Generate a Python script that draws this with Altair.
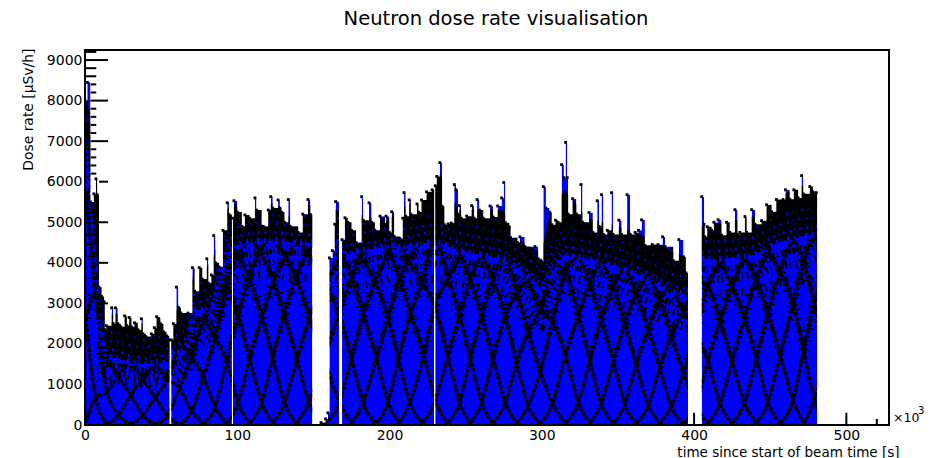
import altair as alt
import pandas as pd

# Envelope of the histogram (time in 10^3 s, dose rate in uSv/h)
env_t = [0,1.5,3.6,5.8,7.2,8,9.2,10.9,12.5,13,14,17.5,18.5,20,21.5,23.5,26,27.5,29,30.5,32.5,34.7,37,38,40,43.5,45.5,47,49.5,51.5,53.5,55.3,55.6,
56.6,58,60,61.3,63,67.6,70.5,72,75,77,80,81,83,84.5,85.7,88,90.6,93.4,94.5,96.5,
97.2,97.8,100,103,105,108,111.6,112.6,116,117,120.3,122,123.3,126.8,128,129,131,133.5,134.7,140,143,146.4,148,149.3,
155,158,159.5,160.5,162.5,164,164.6,166.8,
168.8,170.7,172.5,175,178,181.7,182.7,186.5,188.2,190.4,193.7,197,197.7,199.8,201.4,203,206.8,208.7,209.5,210.6,212.9,214,218,219,221,224.3,228,229.3,
230,231,233,234.5,236,238.5,240.5,242.5,243.7,245,245.8,247,250.6,253.9,255.5,257.5,259,261.5,266,268,271,273.6,275,276,278.6,279.5,284,285.6,288.8,295.5,297.6,300,301,302.7,305,306.5,309,310.6,313,314.5,315.6,316.7,317.3,320.2,322.7,325.7,326.7,331,333.5,336.4,337.6,339.2,340.4,343,345.8,346.8,350.6,352.4,356,358,361.3,363.5,365.5,367.7,372.5,376.3,379.3,381,385.3,386.4,390,393,394.6,396,
405,406.5,407,408.6,411.5,413,415.8,418,421.3,423.4,426.8,428.5,430,433.4,434.5,437.8,440,444.3,447.6,450.9,454,458.4,460,462.8,465.5,468.3,470.6,471.7,476,478,480.2,480.8,528]
env_dose = [8000,8450,5500,5700,6070,5680,3400,3170,3040,2350,2450,2890,2500,2890,2500,2420,2690,2450,2650,2420,2520,2350,2620,2250,2180,2250,2400,2670,2500,2300,2200,2100,0,
2100,2500,3400,2900,2760,2760,3880,3300,3880,3600,4100,3500,3700,4670,4000,3900,4800,5480,5190,0,
5100,5530,5250,4900,5180,5100,5600,5300,4900,4900,5300,5630,5350,5550,5350,5250,5000,5560,4900,4750,5200,5560,5190,0,
60,150,300,4120,4300,4950,5510,0,
4570,5110,5000,4800,4500,5630,5050,5480,5000,4800,5150,4950,5150,4750,5260,4650,4600,5100,5730,5150,5550,5200,5450,5250,5550,5750,5800,0,
5900,6130,6470,5390,4940,4960,4980,5930,5800,5200,5410,5100,5150,5410,5100,5560,5300,5100,5400,5130,5400,5600,5980,4990,4890,4620,4500,4640,4400,4400,4100,4030,5880,5350,5250,4940,5050,5000,6420,6100,6970,6100,5200,5580,5200,5930,5000,5240,4750,5530,4900,5680,4700,4800,5730,4700,5050,4700,5680,4700,4750,4800,5060,4430,4450,4450,4640,4400,4360,4050,4570,4150,3750,0,
5630,4950,4640,4890,4800,5000,5060,4680,5000,4750,5310,4700,4750,5140,4750,5310,4950,5040,5430,5260,5560,5560,5800,5570,5800,5600,6150,5700,5880,5750,5730,0,0]

# Dense black band of points and its fringes
band_t = [9.5,13,20,30,40,47,55,57,62,68,72,80,85,90,96,105,115,125,135,146,149,161,166,169,180,190,200,210,225,233,245,260,275,285,296,300,305,315,330,350,365,385,396,405,420,440,455,470,481]
band_lo = [2300,1700,1650,1550,1500,1550,1500,1800,1800,2000,2800,2900,3000,3900,4400,4500,4550,4550,4500,4500,4500,4500,4500,4200,4300,4350,4450,4400,4500,4500,4300,4200,4100,3850,3500,3300,3700,4200,4100,3900,3700,3300,3200,4100,4100,4200,4500,4650,4700]
band_hi = [3500,2700,2750,2650,2450,2700,2450,2500,3050,3100,3900,3900,4200,5100,5500,5300,5350,5500,5100,5450,5400,5300,5300,5100,5200,5100,5100,5400,5700,6200,5300,5300,5300,4600,4300,4300,5200,5800,5100,4900,4700,4300,4100,4900,5000,5150,5600,5900,5900]
band_d = [2500,1850,1850,1700,1650,1750,1650,1900,2000,2200,3000,3100,3250,4100,4600,4700,4750,4750,4700,4700,4700,4700,4700,4400,4500,4500,4600,4600,4750,4750,4500,4400,4300,4000,3650,3450,3900,4400,4300,4100,3850,3450,3350,4250,4300,4400,4700,4850,4900]
band_e = [2730,2100,2060,1960,1910,1980,1880,2200,2230,2430,3230,3330,3430,4330,4830,4930,4980,4980,4900,4930,4930,4930,4930,4630,4730,4780,4860,4830,4930,4930,4730,4630,4530,4280,3930,3730,4130,4630,4530,4330,4130,3730,3630,4530,4530,4630,4930,5080,5130]
band_f = [2950,2300,2280,2180,2100,2200,2100,2400,2450,2650,3450,3550,3650,4550,5050,5100,5150,5180,5100,5150,5150,5120,5100,4850,4950,5000,5080,5050,5150,5150,4950,4850,4750,4500,4150,3950,4350,4850,4750,4550,4350,3950,3850,4750,4750,4850,5150,5300,5350]
band_a = [2050,1500,1480,1380,1320,1350,1300,1500,1550,1750,2500,2650,2750,3500,4150,4200,4250,4300,4250,4250,4250,4250,4250,3950,4050,4100,4200,4100,4250,4250,4050,3950,3850,3600,3200,3000,3450,3950,3800,3650,3400,3000,2950,3850,3850,3950,4200,4350,4400]
band_b = [1800,1300,1300,1200,1150,1200,1150,1300,1350,1550,2200,2400,2500,3200,3900,3950,4000,4050,3950,4000,4000,4000,3950,3650,3800,3850,3950,3800,4000,3950,3800,3700,3600,3300,2950,2750,3200,3650,3550,3350,3150,2800,2700,3600,3600,3700,3900,4000,4100]
band_c = [1500,1100,1120,1050,1000,1050,1000,1100,1150,1300,1900,2100,2200,2800,3550,3650,3700,3700,3650,3650,3650,3650,3600,3300,3450,3500,3600,3450,3600,3600,3500,3400,3300,2950,2600,2450,2850,3300,3200,3000,2800,2500,2400,3250,3250,3300,3500,3550,3650]

# Times of the lattice formed by the point tracks (bottom cusps and crossings)
grid_t = [0.5,7,14.5,22,30,38,46,54,62,70,77.7,85.4,93,100.5,108,116,123.5,131,139,147,157,167,175,182.6,191,199,206,213.4,222,230,238,246,253,260.5,268,276,283.5,291,299,307,315.5,324,331.5,339,347,354.5,362,370,377.5,385,393,401,409,417,425,433,441,448.5,456.5,465,472,479,487]

# Point tracks: first grid index and dose rates along the track
tracks = [
 (0,[2640,670,20]),
 (0,[5760,3240,825,250,20]),
 (0,[7440,5040,1800,1215,740,235,20]),
 (0,[8000,5880,2325,1890,1620,1130,690,235,20]),
 (0,[7440,5880,2500,2205,2090,1760,1510,1130,910,350,30]),
 (0,[5760,5040,2325,2205,2250,2060,1950,1760,1980,1670,1190,450,40]),
 (0,[2640,3240,1800,1890,2090,2060,2100,2060,2560,2600,2590,2160,1570,560,40]),
 (0,[60,670,825,1215,1620,1760,1950,2060,2750,3040,3350,3360,3420,2700,1650,560,40]),
 (2,[20,250,740,1130,1510,1760,2560,3040,3600,3920,4420,4200,3600,2700,1650,560,40]),
 (4,[20,235,690,1130,1980,2600,3350,3920,4750,4900,4650,4200,3600,2700,1650,560,40]),
 (6,[20,235,910,1670,2590,3360,4420,4900,5000,4900,4650,4200,3600,2700,1650,560,40]),
 (8,[20,350,1190,2160,3420,4200,4650,4900,5000,4900,4650,4200,3600,2700,1650,560,40]),
 (10,[30,450,1570,2700,3700,4350,4800,5050,5150,5000,4800,4300,3700,2750,1700,580,40]),
 (12,[40,540,1620,2650,3500,4100,4500,4750,4850,4750,4500,4050,3500,2650,1600,550,40]),
 (14,[40,560,1700,2750,3700,4300,4750,5000,5100,5000,4750,4300,3700,2800,1800,620,40]),
 (16,[40,550,1600,2600,3450,4050,4450,4700,4800,4700,4500,4000,3500,2900,1750,560,40]),
 (18,[40,570,1680,2750,3650,4250,4700,4950,5050,4950,4700,4600,3700,2700,1650,560,40]),
 (20,[40,540,1650,2700,3600,4200,4650,4900,5000,5390,4700,4250,3600,2700,1650,560,40]),
 (22,[40,560,1600,2650,3550,4150,4600,5400,5050,4900,4650,4200,3600,2700,1520,480,35]),
 (24,[40,560,1650,2700,3600,4620,4650,4900,5000,4900,4650,4200,3310,2300,1320,530,40]),
 (26,[40,560,1650,2970,3600,4200,4650,4900,5000,4900,4280,3570,2880,2560,1730,560,40]),
 (28,[40,620,1650,2700,3600,4200,4650,4900,4600,4170,3720,3990,3780,2700,1600,540,40]),
 (30,[40,560,1650,2700,3600,4200,4280,4170,4000,4650,4880,4200,3490,2620,1570,520,36]),
 (32,[40,560,1650,2700,3310,3570,3720,4650,5250,4900,4510,4070,3420,2510,1490,490,35]),
 (34,[40,560,1520,2300,2880,3990,4880,4900,4850,4750,4420,3910,3240,2380,1420,460,30]),
 (36,[40,480,1320,2560,3780,4200,4510,4750,4750,4560,4190,3700,3100,2210,1290,480,40]),
 (38,[30,530,1730,2700,3490,4070,4420,4560,4500,4310,4000,3440,2810,2300,1570,530,40]),
 (40,[40,560,1600,2620,3420,3910,4190,4310,4300,4020,3630,3570,3420,2570,1570,550,40]),
 (42,[40,540,1570,2510,3240,3700,4000,4020,3900,4170,4420,3990,3420,2650,1650,570,40]),
 (44,[40,520,1490,2380,3100,3440,3630,4170,4750,4660,4420,4120,3600,2750,1730,620,45]),
 (46,[35,490,1420,2210,2810,3570,4420,4660,4750,4800,4740,4280,3780,2970,1850,630,45]),
 (48,[35,460,1290,2300,3420,3990,4420,4800,5000,5000,4880,4620,4030,3020,1850]),
 (50,[30,480,1570,2570,3420,4120,4650,5000,5100,5390,5210,4700,4030]),
 (52,[40,530,1570,2650,3600,4280,4880,5390,5600,5490,5210]),
 (54,[40,550,1650,2750,3780,4620,5210,5490,5600]),
 (56,[40,570,1730,2970,4030,4700,5200]),
 (58,[45,620,1850,3020,4030]),
 (60,[45,630,1850]),
]

# Inward ticks that stay visible beside the histogram
ytick_major = [3000,4000,5000,6000,7000,8000,9000]
ytick_major_start = [12.5,9.2,9.2,9.2,3.7,3.7,0]
ytick_minor = [6200,6400,6600,6800,7200,7400,7600,7800,8200,8400,8600,8800,9200]
ytick_minor_start = [3.7,3.7,3.7,3.7,3.7,3.7,3.7,3.7,3.7,3.7,0,0,0]
xtick_major = [400,500]
xtick_minor = [520]
y_labels = [0,1000,2000,3000,4000,5000,6000,7000,8000,9000]
x_labels = [0,100,200,300,400,500]

FONT = "DejaVu Sans"
xs = alt.Scale(domain=[0, 528], nice=False, zero=False)
ys = alt.Scale(domain=[0, 9248], nice=False, zero=False)

x_axis = alt.Axis(
    values=x_labels, format="d", tickSize=0, domain=False, grid=False, labelFlush=False,
    labelFont=FONT, labelFontSize=14, labelColor="#000000", labelPadding=3, labelOverlap=False,
    title="time since start of beam time [s]", titleFont=FONT, titleFontSize=13.5,
    titleFontWeight="normal", titleColor="#000000", titleAlign="right", titleAnchor="end",
    titleX=814, titleY=20)
y_axis = alt.Axis(
    values=y_labels, format="d", tickSize=0, domain=False, grid=False, labelFlush=False,
    labelFont=FONT, labelFontSize=14, labelColor="#000000", labelPadding=3, labelOverlap=False,
    title="Dose rate [\u03bcSv/h]", titleFont=FONT, titleFontSize=13.9, titleFontWeight="normal",
    titleColor="#000000", titleAngle=270, titleAlign="right", titleAnchor="end",
    titleX=-50, titleY=-2)

X = lambda f="t": alt.X(f + ":Q", scale=xs, axis=x_axis)
Y = lambda f="dose": alt.Y(f + ":Q", scale=ys, axis=y_axis)

env = pd.DataFrame({"t": env_t, "dose": env_dose, "top": [9248] * len(env_t)})
band = pd.DataFrame({"t": band_t, "lo": band_lo, "hi": band_hi, "d": band_d, "e": band_e, "f": band_f,
                     "a": band_a, "b": band_b, "c": band_c})
rows = []
for k, (start, doses) in enumerate(tracks):
    for j, d in enumerate(doses):
        rows.append({"track": k, "t": grid_t[start + j], "dose": d})
trk = pd.DataFrame(rows)
tips = env[env.dose > 40]

blue = alt.Chart(env).mark_area(interpolate="step-after", color="#0000ff", opacity=1).encode(x=X(), y=Y())
lines = alt.Chart(trk).mark_line(color="#000000", strokeWidth=3.5, strokeDash=[4, 1],
                                 interpolate="monotone", clip=True).encode(x=X(), y=Y(), detail="track:N")
hatch1 = alt.Chart(trk[trk.dose >= 1100]).mark_line(
    color="#000000", strokeWidth=6, strokeDash=[1.5, 4, 1, 6], interpolate="monotone", clip=True).encode(
    x=X(), y=Y(), detail="track:N")
hatch2 = alt.Chart(trk[trk.dose >= 1800]).mark_line(
    color="#000000", strokeWidth=10, strokeDash=[1.5, 8, 1, 11], interpolate="monotone", clip=True).encode(
    x=X(), y=Y(), detail="track:N")
band_area = alt.Chart(band).mark_area(color="#000000", opacity=1).encode(x=X(), y=Y("lo"), y2="hi:Q")
fringes = [
    alt.Chart(band).mark_line(color="#000000", strokeWidth=w, strokeDash=dash, clip=True).encode(x=X(), y=Y(col))
    for col, w, dash in [("a", 6, [3, 1, 2, 2, 1, 3]), ("b", 7, [2, 3, 1, 4]), ("c", 8, [1.5, 5, 2, 7])]
]
flecks = [
    alt.Chart(band).mark_line(color="#0000ff", strokeWidth=w, strokeDash=dash, clip=True).encode(x=X(), y=Y(col))
    for col, w, dash in [("lo", 6, [2, 3, 1, 5, 3, 4]), ("d", 3, [2, 3, 1, 4, 2, 5]),
                         ("e", 2.5, [1.5, 4, 1, 5, 2, 6]), ("f", 2.2, [1.5, 6, 1, 8])]
]
mask = alt.Chart(env).mark_area(interpolate="step-after", color="#ffffff", opacity=1).encode(
    x=X(), y=Y(), y2="top:Q")
tip_dots = alt.Chart(tips).mark_square(color="#000000", size=8, opacity=1, clip=True).encode(x=X(), y=Y())

ymaj = pd.DataFrame({"d": ytick_major, "s": ytick_major_start})
ymaj["e"] = 15.1
ymin = pd.DataFrame({"d": ytick_minor, "s": ytick_minor_start})
ymin["e"] = 7.4
yt = pd.concat([ymaj, ymin])
yticks = alt.Chart(yt).mark_rule(color="#000000", strokeWidth=2).encode(x=X("s"), x2="e:Q", y=Y("d"))
xmaj = pd.DataFrame({"v": xtick_major, "lo": 0, "hi": 300})
xmin = pd.DataFrame({"v": xtick_minor, "lo": 0, "hi": 150})
xticks = alt.Chart(pd.concat([xmaj, xmin])).mark_rule(color="#000000", strokeWidth=2).encode(
    x=X("v"), y=Y("lo"), y2="hi:Q")
frame = alt.Chart(pd.DataFrame({"a": [0]})).mark_rect(filled=False, stroke="#000000", strokeWidth=2).encode(
    x=alt.value(0), x2=alt.value(804), y=alt.value(0), y2=alt.value(375))
exp1 = alt.Chart(pd.DataFrame({"s": ["\u00d710"]})).mark_text(
    font=FONT, fontSize=12.5, align="left", baseline="middle", color="#000000").encode(
    x=alt.value(808), y=alt.value(368), text="s:N")
exp2 = alt.Chart(pd.DataFrame({"s": ["3"]})).mark_text(
    font=FONT, fontSize=10, align="left", baseline="middle", color="#000000").encode(
    x=alt.value(833), y=alt.value(361), text="s:N")

chart = alt.layer(blue, lines, hatch1, hatch2, *fringes, band_area, *flecks, mask, tip_dots,
                  yticks, xticks, frame, exp1, exp2).properties(
    width=804, height=375,
    title=alt.TitleParams("Neutron dose rate visualisation", font=FONT, fontSize=19.5, fontWeight="normal",
                          color="#000000", anchor="middle", dx=9, offset=19),
    autosize=alt.AutoSizeParams(type="none"),
    padding={"left": 77, "top": 42, "right": 38, "bottom": 33},
).configure_view(stroke=None)

chart.save("out.html", embed_options={"renderer": "svg", "actions": False})
